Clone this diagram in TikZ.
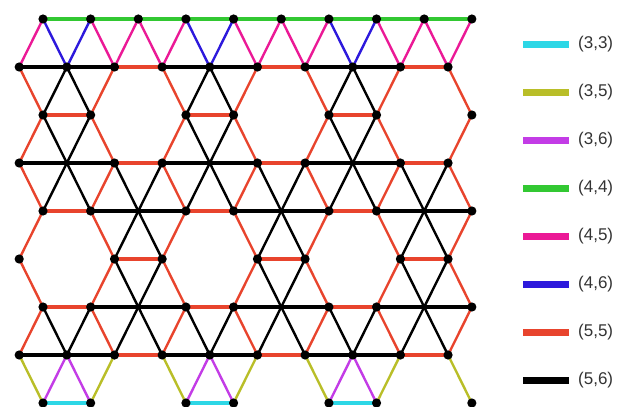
\documentclass[tikz,border=0pt]{standalone}
\usepackage{fontspec}
\setmainfont{Liberation Sans}
\usepackage{xcolor}
\definecolor{col33}{RGB}{45,215,230}
\definecolor{col35}{RGB}{185,190,40}
\definecolor{col36}{RGB}{195,60,230}
\definecolor{col44}{RGB}{50,200,50}
\definecolor{col45}{RGB}{235,25,150}
\definecolor{col46}{RGB}{45,25,220}
\definecolor{col55}{RGB}{232,68,45}
\definecolor{col56}{RGB}{0,0,0}

\begin{document}
\begin{tikzpicture}[x=1pt,y=-1pt,
  edge/.style={line width=2.4pt},
  hz/.style={line width=3.2pt},
  lab/.style={anchor=west,inner sep=0pt,text=black!80,font=\fontsize{17}{20}\selectfont}]
\useasboundingbox (0,0) rectangle (624,407);

% lattice points, row r and column k
\foreach \r in {0,...,8}
  \foreach \k in {0,...,9}
    \coordinate (v\r\k) at ({43+47.65*\k-23.8*mod(\r,2)},{19+48*\r});

% horizontal edges
\draw[col44,hz] (v00) -- (v09);
\foreach \r in {1,3,7} {
  \draw[col56,hz] (v\r0) -- (v\r2) (v\r3) -- (v\r5) (v\r6) -- (v\r8);
  \draw[col55,hz] (v\r2) -- (v\r3) (v\r5) -- (v\r6) (v\r8) -- (v\r9);
}
\foreach \r in {4,6} {
  \draw[col55,hz] (v\r0) -- (v\r1) (v\r3) -- (v\r4) (v\r6) -- (v\r7);
  \draw[col56,hz] (v\r1) -- (v\r3) (v\r4) -- (v\r6) (v\r7) -- (v\r9);
}
\draw[col55,hz] (v20) -- (v21) (v23) -- (v24) (v26) -- (v27)
  (v52) -- (v53) (v55) -- (v56) (v58) -- (v59);
\draw[col33,hz] (v80) -- (v81) (v83) -- (v84) (v86) -- (v87);

% slanted edges
\foreach \o/\e in {1/2,3/2,3/4,5/4,5/6,7/6}
  \foreach \a/\b in {0/0,2/1,3/3,5/4,6/6,8/7,9/9}
    \draw[col55,edge] (v\o\a) -- (v\e\b);
\foreach \o in {1,3}
  \foreach \a/\b in {1/0,1/1,4/3,4/4,7/6,7/7}
    \draw[col56,edge] (v\o\a) -- (v2\b);
\foreach \o/\e in {3/4,7/6}
  \foreach \a/\b in {1/0,1/1,2/2,3/2,4/3,4/4,5/5,6/5,7/6,7/7,8/8,9/8}
    \draw[col56,edge] (v\o\a) -- (v\e\b);
\foreach \e in {4,6}
  \foreach \a/\b in {2/2,3/2,5/5,6/5,8/8,9/8}
    \draw[col56,edge] (v5\a) -- (v\e\b);
\foreach \a/\b in {1/0,1/1,4/3,4/4,7/6,7/7}
  \draw[col46,edge] (v1\a) -- (v0\b);
\foreach \a/\b in {0/0,2/1,2/2,3/2,3/3,5/4,5/5,6/5,6/6,8/7,8/8,9/8,9/9}
  \draw[col45,edge] (v1\a) -- (v0\b);
\foreach \a/\b in {1/0,1/1,4/3,4/4,7/6,7/7}
  \draw[col36,edge] (v7\a) -- (v8\b);
\foreach \a/\b in {0/0,2/1,3/3,5/4,6/6,8/7,9/9}
  \draw[col35,edge] (v7\a) -- (v8\b);

% dots
\foreach \r in {0,1,7}
  \foreach \k in {0,...,9}
    \fill (v\r\k) circle (4.6);
\foreach \r in {2,4,6,8}
  \foreach \k in {0,1,3,4,6,7,9}
    \fill (v\r\k) circle (4.6);
\foreach \r in {3,5}
  \foreach \k in {0,2,3,5,6,8,9}
    \fill (v\r\k) circle (4.6);

% legend
\foreach \a/\b [count=\i] in {3/3,3/5,3/6,4/4,4/5,4/6,5/5,5/6} {
  \coordinate (k\a\b) at (523,{44.5+48*(\i-1)});
  \draw[col\a\b,line width=7pt] (k\a\b) -- ++(46,0);
  \node[lab] (t\a\b) at (578,{44.5+48*(\i-1)}) {(\a,\b)};
}
\end{tikzpicture}
\end{document}
